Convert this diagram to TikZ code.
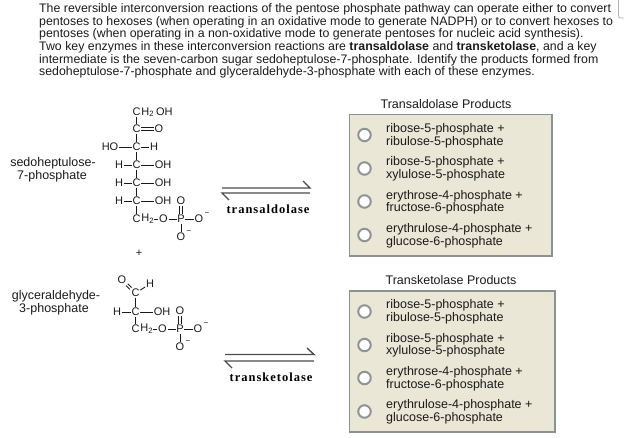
\documentclass[tikz,border=0pt]{standalone}
\usepackage{fontspec}
\setmainfont{Liberation Sans}
\newfontfamily\serifbold{Liberation Serif}[LetterSpace=8,BoldFont={Liberation Serif Bold}]
\definecolor{ink}{HTML}{1A1A1A}
\definecolor{panel}{HTML}{EAE7D6}
\definecolor{rim}{HTML}{8C9191}
\definecolor{ringc}{HTML}{8F9595}
\tikzset{x=1pt,y=-1pt,
  para/.style={anchor=base west,inner sep=0pt,yshift=-0.8pt,font=\fontsize{12.35}{12}\selectfont,text=ink},
  lab/.style={anchor=base,inner sep=0pt,yshift=-0.9pt,font=\fontsize{12.5}{12}\selectfont,text=ink},
  opt/.style={anchor=base west,inner sep=0pt,yshift=-0.8pt,font=\fontsize{12.5}{12}\selectfont,text=ink},
  atom/.style={inner sep=0.6pt,font=\fontsize{11}{11}\selectfont,text=ink},
  tail/.style={anchor=west,inner sep=0pt,font=\fontsize{11}{11}\selectfont,text=ink},
  bond/.style={draw=ink,line width=0.9pt},
  upA/.style={bond,transform canvas={yshift=1.2pt}},
  upB/.style={bond,transform canvas={yshift=-1.2pt}},
  sideA/.style={bond,transform canvas={xshift=1.2pt}},
  sideB/.style={bond,transform canvas={xshift=-1.2pt}},
  diagA/.style={bond,transform canvas={shift={(0.9pt,0.9pt)}}},
  diagB/.style={bond,transform canvas={shift={(-0.9pt,-0.9pt)}}},
  harp/.style={draw=black!70,line width=1.4pt},
  enz/.style={inner sep=0pt,font=\serifbold\bfseries\fontsize{12.5}{12}\selectfont,text=black},
  box/.style={draw=rim,fill=panel,line width=1.2pt},
  radio/.style={circle,draw=ringc,fill=white,line width=2pt,minimum size=12.5pt,inner sep=0pt},
}
\begin{document}
\begin{tikzpicture}
\useasboundingbox (0,0) rectangle (624,438);
% header
\node[para] (t1) at (39,12) {The reversible interconversion reactions of the pentose phosphate pathway can operate either to convert};
\node[para] (t2) at (39,24.5) {pentoses to hexoses (when operating in an oxidative mode to generate NADPH) or to convert hexoses to};
\node[para] (t3) at (39,37) {pentoses (when operating in a non-oxidative mode to generate pentoses for nucleic acid synthesis).};
\node[para] (t4) at (39,50) {Two key enzymes in these interconversion reactions are \textbf{transaldolase} and \textbf{transketolase}, and a key};
\node[para] (t5) at (39,62.5) {intermediate is the seven-carbon sugar sedoheptulose-7-phosphate. Identify the products formed from};
\node[para] (t6) at (39,75) {sedoheptulose-7-phosphate and glyceraldehyde-3-phosphate with each of these enzymes.};
% scrollbar corner
\draw[draw=black!30,fill=white,line width=0.8pt,rounded corners=2pt] (618.5,-4) rectangle (630,18);
% sedoheptulose
\node[lab] (s1) at (53,166) {sedoheptulose-};
\node[lab] (s2) at (52,179) {7-phosphate};
\node[atom] (a1) at (136.5,112) {C};
\node[tail] (a1t) at (a1.east) {H\textsubscript{2}\,OH};
\node[atom] (a2) at (136.5,129) {C};
\node[atom] (a2o) at (159,129) {O};
\node[atom] (a3) at (136.5,147) {C};
\node[atom] (a3l) at (110,147) {HO};
\node[atom] (a3r) at (154,147) {H};
\node[atom] (a4) at (136.5,165) {C};
\node[atom] (a4l) at (119,165) {H};
\node[atom] (a4r) at (163,165) {OH};
\node[atom] (a5) at (136.5,183) {C};
\node[atom] (a5l) at (119,183) {H};
\node[atom] (a5r) at (163,183) {OH};
\node[atom] (a6) at (136.5,201) {C};
\node[atom] (a6l) at (119,201) {H};
\node[atom] (a6r) at (163,201) {OH};
\node[atom] (a7) at (136.5,219) {C};
\node[tail] (a7t) at (a7.east) {H\textsubscript{2}};
\node[atom] (a7o) at (163.5,219) {O};
\node[atom] (ap) at (181,219) {P};
\node[atom] (apu) at (181,201) {O};
\node[atom] (apr) at (199,219) {O};
\node[atom] (apd) at (181,237) {O};
\node[inner sep=0pt,font=\fontsize{8}{8}\selectfont,text=ink] (aprm) at (207,214) {−};
\node[inner sep=0pt,font=\fontsize{8}{8}\selectfont,text=ink] (apdm) at (189,232) {−};
\draw[bond] (a1) -- (a2);
\draw[upA] (a2) -- (a2o);
\draw[upB] (a2) -- (a2o);
\draw[bond] (a2) -- (a3);
\draw[bond] (a3l) -- (a3);
\draw[bond] (a3) -- (a3r);
\draw[bond] (a3) -- (a4);
\draw[bond] (a4l) -- (a4);
\draw[bond] (a4) -- (a4r);
\draw[bond] (a4) -- (a5);
\draw[bond] (a5l) -- (a5);
\draw[bond] (a5) -- (a5r);
\draw[bond] (a5) -- (a6);
\draw[bond] (a6l) -- (a6);
\draw[bond] (a6) -- (a6r);
\draw[bond] (a6) -- (a7);
\draw[bond] (a7t) -- (a7o);
\draw[bond] (a7o) -- (ap);
\draw[bond] (ap) -- (apr);
\draw[sideA] (ap) -- (apu);
\draw[sideB] (ap) -- (apu);
\draw[bond] (ap) -- (apd);
\node[inner sep=0pt,font=\fontsize{11}{11}\selectfont,text=ink] (plus) at (139,253) {+};
% glyceraldehyde
\node[lab] (g1) at (56,298.5) {glyceraldehyde-};
\node[lab] (g2) at (54,311.5) {3-phosphate};
\node[atom] (b0) at (122,280) {O};
\node[atom] (b0h) at (150,284) {H};
\node[atom] (b1) at (135.5,293) {C};
\node[atom] (b2) at (135.5,312) {C};
\node[atom] (b2l) at (117,312) {H};
\node[atom] (b2r) at (162,312) {OH};
\node[atom] (b3) at (135.5,329) {C};
\node[tail] (b3t) at (b3.east) {H\textsubscript{2}};
\node[atom] (b3o) at (162.5,329) {O};
\node[atom] (bp) at (180,329) {P};
\node[atom] (bpu) at (180,311) {O};
\node[atom] (bpr) at (198,329) {O};
\node[atom] (bpd) at (180,347) {O};
\node[inner sep=0pt,font=\fontsize{8}{8}\selectfont,text=ink] (bprm) at (206,324) {−};
\node[inner sep=0pt,font=\fontsize{8}{8}\selectfont,text=ink] (bpdm) at (188,342) {−};
\draw[diagA] (b0) -- (b1);
\draw[diagB] (b0) -- (b1);
\draw[bond] (b1) -- (b0h);
\draw[bond] (b1) -- (b2);
\draw[bond] (b2l) -- (b2);
\draw[bond] (b2) -- (b2r);
\draw[bond] (b2) -- (b3);
\draw[bond] (b3t) -- (b3o);
\draw[bond] (b3o) -- (bp);
\draw[bond] (bp) -- (bpr);
\draw[sideA] (bp) -- (bpu);
\draw[sideB] (bp) -- (bpu);
\draw[bond] (bp) -- (bpd);
% harpoons
\coordinate (h1a) at (222,188); \coordinate (h1b) at (310,188); \coordinate (h1c) at (303,181);
\coordinate (h2a) at (310,193); \coordinate (h2b) at (222,193); \coordinate (h2c) at (229,200);
\draw[harp] (h1a) -- (h1b) -- (h1c);
\draw[harp] (h2a) -- (h2b) -- (h2c);
\node[enz] (e1) at (268,209) {transaldolase};
\coordinate (k1a) at (225,354.5); \coordinate (k1b) at (314,354.5); \coordinate (k1c) at (307,348);
\coordinate (k2a) at (314,361); \coordinate (k2b) at (225,361); \coordinate (k2c) at (232,368);
\draw[harp] (k1a) -- (k1b) -- (k1c);
\draw[harp] (k2a) -- (k2b) -- (k2c);
\node[enz] (e2) at (271,377) {transketolase};
% panel 1
\node[lab] (p1) at (446,108) {Transaldolase Products};
\draw[box] (349.5,114.5) rectangle (552,256);
\node[radio] (r1) at (364.5,135) {};
\node[radio] (r2) at (364.5,168.5) {};
\node[radio] (r3) at (364.5,201.5) {};
\node[radio] (r4) at (364.5,235) {};
\node[opt] (o1a) at (386,132) {ribose-5-phosphate +};
\node[opt] (o1b) at (386,144.5) {ribulose-5-phosphate};
\node[opt] (o2a) at (386,165) {ribose-5-phosphate +};
\node[opt] (o2b) at (386,178) {xylulose-5-phosphate};
\node[opt] (o3a) at (386,199) {erythrose-4-phosphate +};
\node[opt] (o3b) at (386,211) {fructose-6-phosphate};
\node[opt] (o4a) at (386,232) {erythrulose-4-phosphate +};
\node[opt] (o4b) at (386,244.5) {glucose-6-phosphate};
% panel 2
\node[lab] (p2) at (451,284) {Transketolase Products};
\draw[box] (349.5,291) rectangle (555,432);
\node[radio] (q1) at (364.5,311.5) {};
\node[radio] (q2) at (364.5,345) {};
\node[radio] (q3) at (364.5,378) {};
\node[radio] (q4) at (364.5,411.5) {};
\node[opt] (u1a) at (386,308) {ribose-5-phosphate +};
\node[opt] (u1b) at (386,321) {ribulose-5-phosphate};
\node[opt] (u2a) at (386,341.5) {ribose-5-phosphate +};
\node[opt] (u2b) at (386,354) {xylulose-5-phosphate};
\node[opt] (u3a) at (386,375) {erythrose-4-phosphate +};
\node[opt] (u3b) at (386,387.5) {fructose-6-phosphate};
\node[opt] (u4a) at (386,408) {erythrulose-4-phosphate +};
\node[opt] (u4b) at (386,421) {glucose-6-phosphate};
\end{tikzpicture}
\end{document}
